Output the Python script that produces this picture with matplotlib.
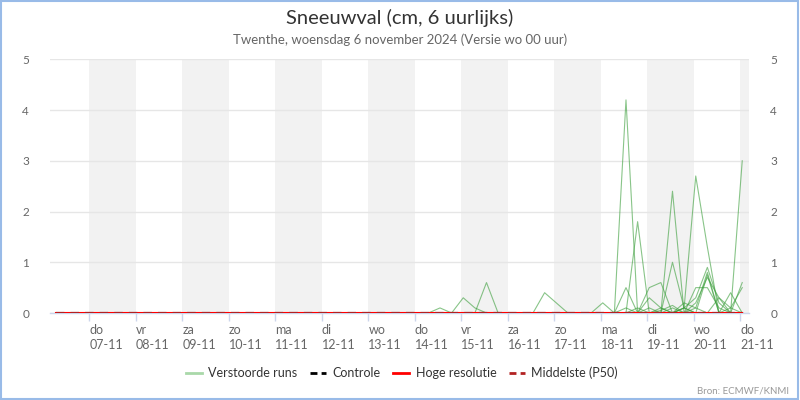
import matplotlib
matplotlib.use('Agg')
import matplotlib.pyplot as plt
import matplotlib.dates as mdates
import pandas as pd
import numpy as np
from matplotlib.lines import Line2D
from matplotlib.patches import Rectangle

plt.rcParams['font.family'] = ['Lato', 'DejaVu Sans']

# ---------------- data ----------------
title = 'Sneeuwval (cm, 6 uurlijks)'
subtitle = 'Twenthe, woensdag 6 november 2024 (Versie wo 00 uur)'
source = 'Bron: ECMWF/KNMI'

run_start = '2024-11-06 06:00'   # UTC
run_end = '2024-11-21 00:00'     # UTC

# perturbed ensemble members: non-zero 6-hourly snowfall (cm), keyed by UTC 'dd-mm HH'
member_01 = {'14-11 12': 0.1}
member_02 = {'15-11 00': 0.3, '15-11 06': 0.1}
member_03 = {'15-11 12': 0.6}
member_04 = {'16-11 18': 0.4, '17-11 00': 0.2}
member_05 = {'18-11 00': 0.2}
member_06 = {'18-11 12': 4.2}
member_07 = {'18-11 18': 1.8}
member_08 = {'18-11 12': 0.5}
member_09 = {'18-11 12': 0.1, '19-11 00': 0.3, '19-11 06': 0.1, '19-11 18': 0.1}
member_10 = {'19-11 00': 0.5, '19-11 06': 0.6}
member_11 = {'19-11 12': 2.4}
member_12 = {'19-11 12': 1.0, '19-11 18': 0.1}
member_13 = {'19-11 18': 0.1, '20-11 00': 2.7, '20-11 06': 1.3}
member_14 = {'20-11 00': 0.5, '20-11 06': 0.5, '20-11 12': 0.1}
member_15 = {'19-11 18': 0.1, '20-11 00': 0.3, '20-11 06': 0.9, '20-11 12': 0.2}
member_16 = {'20-11 00': 0.1, '20-11 06': 0.8}
member_17 = {'20-11 00': 0.2, '20-11 06': 0.7, '20-11 12': 0.3}
member_18 = {'20-11 18': 0.4}
member_19 = {'21-11 00': 3.0}
member_20 = {'21-11 00': 0.6}
member_21 = {'20-11 18': 0.1, '21-11 00': 0.5}
member_22 = {'19-11 06': 0.1, '19-11 18': 0.2, '20-11 00': 0.1}
member_23 = {'19-11 00': 0.1, '19-11 12': 0.1, '20-11 06': 0.75}
member_24 = {'20-11 12': 0.3, '20-11 18': 0.1}
member_25 = {'18-11 18': 0.1, '19-11 06': 0.05, '19-11 12': 0.15}
perturbed_members = [member_01, member_02, member_03, member_04, member_05,
                     member_06, member_07, member_08, member_09, member_10,
                     member_11, member_12, member_13, member_14, member_15,
                     member_16, member_17, member_18, member_19, member_20,
                     member_21, member_22, member_23, member_24, member_25]
n_dry_members = 25          # remaining members with no snowfall

control_values = {}          # all zero
hres_values = {}             # all zero
p50_values = {}              # all zero

day_names = ['do', 'vr', 'za', 'zo', 'ma', 'di', 'wo',
             'do', 'vr', 'za', 'zo', 'ma', 'di', 'wo', 'do']
day_dates = ['07-11', '08-11', '09-11', '10-11', '11-11', '12-11', '13-11',
             '14-11', '15-11', '16-11', '17-11', '18-11', '19-11', '20-11', '21-11']
y_ticks = [0, 1, 2, 3, 4, 5]

# ---------------- helpers ----------------
times_utc = pd.date_range(run_start, run_end, freq='6h')
keys = [t.strftime('%d-%m %H') for t in times_utc]
times_local = times_utc + pd.Timedelta(hours=1)   # CET display
x = mdates.date2num(times_local.to_pydatetime())


def series(d):
    return np.array([d.get(k, 0.0) for k in keys])


tick_days = pd.to_datetime(['2024-' + d[3:] + '-' + d[:2] for d in day_dates])
tick_x = mdates.date2num(tick_days.to_pydatetime())

# ---------------- figure ----------------
fig = plt.figure(figsize=(8, 4), dpi=100)
ax = fig.add_axes([50 / 800, 1 - 313 / 400, (749.3 - 50) / 800, (313 - 59.3) / 400])

day_w = tick_x[1] - tick_x[0]
xmin = tick_x[0] - 39.3 / 46.5 * day_w
xmax = tick_x[0] + (749.3 - 89.3) / 46.5 * day_w
ax.set_xlim(xmin, xmax)
ax.set_ylim(0, 5)

# alternating day bands
for i in range(0, len(tick_x), 2):
    ax.axvspan(tick_x[i], min(tick_x[i] + day_w, xmax), color='#f2f2f2', lw=0, zorder=0)

ax.set_yticks(y_ticks)
ax.yaxis.grid(True, color='#e6e6e6', lw=1, zorder=1)
ax.set_axisbelow(True)

green = '#3a9e3a'
for m in perturbed_members:
    ax.plot(x, series(m), color=green, lw=0.8, alpha=0.6, zorder=2)
for _ in range(n_dry_members):
    ax.plot(x, np.zeros_like(x), color=green, lw=0.8, alpha=0.6, zorder=2)

ax.plot(x, series(control_values), color='black', lw=1.5, ls=(0, (4, 3)), zorder=3)
ax.plot(x, series(hres_values), color='#ff0000', lw=1.5, zorder=4)
ax.plot(x, series(p50_values), color='#b22222', lw=1.5, ls=(0, (4, 3)), zorder=5)

for s in ['top', 'left', 'right']:
    ax.spines[s].set_visible(False)
ax.spines['bottom'].set_color('#ccd6eb')
ax.spines['bottom'].set_linewidth(1)
ax.spines['bottom'].set_zorder(1.5)

ax.set_xticks(tick_x)
ax.set_xticklabels([f'{d}\n{dt}' for d, dt in zip(day_names, day_dates)])
for lbl in ax.get_xticklabels():
    lbl.set_horizontalalignment('left')
    lbl.set_multialignment('left')
    lbl.set_linespacing(1.25)
ax.tick_params(axis='x', length=6, width=1, color='#ccd6eb', colors='#666666',
               labelsize=9, pad=2)
ax.tick_params(axis='x', color='#ccd6eb')
ax.tick_params(axis='y', length=0, labelsize=8.5, colors='#666666',
               labelleft=True, labelright=True, pad=15)

# titles
fig.text(0.5, 1 - 18 / 400, title, ha='center', va='center', fontsize=14.5, color='#333333')
fig.text(0.5, 1 - 40 / 400, subtitle, ha='center', va='center', fontsize=9.5, color='#666666')
fig.text(789 / 800, 1 - 391 / 400, source, ha='right', va='center', fontsize=7, color='#999999')

# legend
handles = [Line2D([], [], color='#a9d8a9', lw=2),
           Line2D([], [], color='black', lw=2, ls=(0, (2.5, 1.5))),
           Line2D([], [], color='#ff0000', lw=2),
           Line2D([], [], color='#b22222', lw=2, ls=(0, (2.5, 1.5)))]
labels = ['Verstoorde runs', 'Controle', 'Hoge resolutie', 'Middelste (P50)']
leg = fig.legend(handles, labels, loc='center', bbox_to_anchor=(402 / 800, 1 - 373 / 400),
                 ncol=4, frameon=False, fontsize=9, handlelength=1.3,
                 handletextpad=0.5, columnspacing=1.0)
for t in leg.get_texts():
    t.set_color('#333333')

# border
fig.patches.append(Rectangle((0.001, 0.002), 0.997, 0.995, transform=fig.transFigure,
                             fill=False, edgecolor='#99bbe8', lw=1.5))

fig.savefig('out.png', dpi=100)
